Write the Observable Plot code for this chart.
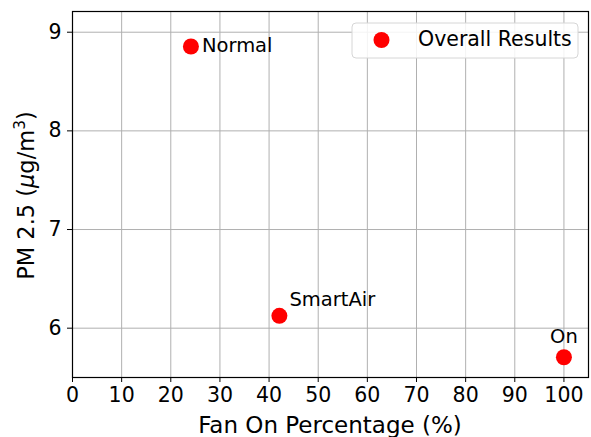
<!DOCTYPE html>
<html>
<head>
<meta charset="utf-8">
<script src="https://cdn.jsdelivr.net/npm/d3@7"></script>
<script src="https://cdn.jsdelivr.net/npm/@observablehq/plot@0.6"></script>
<style>
  html, body { margin: 0; padding: 0; background: #fff; }
  svg { display: block; }
</style>
</head>
<body>
<div id="chart"></div>
<script>
const labels = ["Normal", "SmartAir", "On"];
const fanOnPct = [24.1, 42.1, 100];
const pm25 = [8.855, 6.125, 5.705];
const xTicks = [0, 10, 20, 30, 40, 50, 60, 70, 80, 90, 100];
const yTicks = [6, 7, 8, 9];
const seriesName = "Overall Results";
const xLabel = "Fan On Percentage (%)";

const data = labels.map((l, i) => ({label: l, x: fanOnPct[i], y: pm25[i]}));

const font = "DejaVu Sans, sans-serif";
const W = 591, H = 437;
const mL = 72, mR = 3, mT = 11, mB = 60;

const plot = Plot.plot({
  width: W, height: H,
  marginLeft: mL, marginRight: mR, marginTop: mT, marginBottom: mB,
  style: {fontFamily: font, fontSize: "20px", color: "black", background: "white"},
  x: {domain: [0, 105]},
  y: {domain: [5.5, 9.21]},
  marks: [
    Plot.gridX(xTicks, {stroke: "#b0b0b0", strokeOpacity: 1, strokeWidth: 1}),
    Plot.gridY(yTicks, {stroke: "#b0b0b0", strokeOpacity: 1, strokeWidth: 1}),
    Plot.frame({stroke: "black", strokeWidth: 1.2}),
    Plot.axisX({ticks: xTicks, tickFormat: d => String(d), tickSize: 5, tickPadding: 5, label: null, fontSize: 20.5, stroke: "black"}),
    Plot.axisY({ticks: yTicks, tickFormat: d => String(d), tickSize: 5, tickPadding: 6, label: null, fontSize: 20.5, stroke: "black"}),
    Plot.dot(data, {x: "x", y: "y", r: 8, fill: "red", stroke: null}),
    Plot.text(data.filter(d => d.label === "Normal"), {x: "x", y: "y", text: "label", textAnchor: "start", dx: 11, dy: -1, fontSize: 19.5, fill: "black"}),
    Plot.text(data.filter(d => d.label === "SmartAir"), {x: "x", y: "y", text: "label", textAnchor: "start", dx: 10, dy: -16, fontSize: 19.5, fill: "black"}),
    Plot.text(data.filter(d => d.label === "On"), {x: "x", y: "y", text: "label", textAnchor: "middle", dx: 0, dy: -21, fontSize: 19.5, fill: "black"})
  ]
});

const svg = d3.select(plot);

// Legend (upper right, inside axes)
const lg = svg.append("g");
lg.append("rect")
  .attr("x", 352).attr("y", 23).attr("width", 226).attr("height", 35)
  .attr("rx", 4).attr("fill", "white").attr("fill-opacity", 0.85)
  .attr("stroke", "#d6d6d6").attr("stroke-width", 1);
lg.append("circle").attr("cx", 381.5).attr("cy", 40).attr("r", 8).attr("fill", "red");
lg.append("text").attr("x", 418).attr("y", 46)
  .attr("text-anchor", "start")
  .attr("font-family", font).attr("font-size", 20.5).attr("fill", "black")
  .text(seriesName);

// X axis label
svg.append("text")
  .attr("x", (mL + W - mR) / 2).attr("y", 433)
  .attr("text-anchor", "middle")
  .attr("font-family", font).attr("font-size", 23).attr("fill", "black")
  .text(xLabel);

// Y axis label with mathtext-like styling
const yl = svg.append("text")
  .attr("transform", `translate(33.5,195.5) rotate(-90)`)
  .attr("text-anchor", "middle")
  .attr("font-family", font).attr("font-size", 22.5).attr("fill", "black");
yl.append("tspan").text("PM 2.5 (");
yl.append("tspan").attr("font-style", "italic").text("μ");
yl.append("tspan").text("g/m");
yl.append("tspan").attr("font-size", 15.5).attr("dy", -9).text("3");
yl.append("tspan").attr("dy", 9).text(")");

document.getElementById("chart").appendChild(plot);
</script>
</body>
</html>
